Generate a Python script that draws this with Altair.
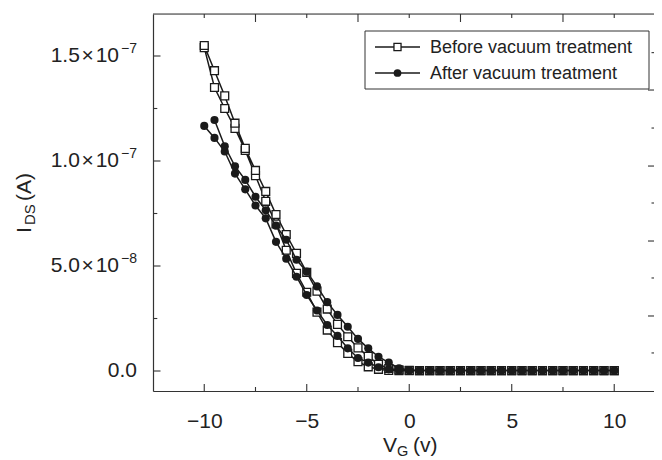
import altair as alt
import pandas as pd

FONT = "Liberation Sans"
INK = "#1a1a1a"

# ---------------- data (currents in units of 1e-8 A) ----------------
vg = [-10.0, -9.5, -9.0, -8.5, -8.0, -7.5, -7.0, -6.5, -6.0, -5.5, -5.0,
      -4.5, -4.0, -3.5, -3.0, -2.5, -2.0, -1.5, -1.0, -0.5, 0.0,
      0.5, 1.0, 1.5, 2.0, 2.5, 3.0, 3.5, 4.0, 4.5, 5.0,
      5.5, 6.0, 6.5, 7.0, 7.5, 8.0, 8.5, 9.0, 9.5, 10.0]

before_upper = [15.5, 14.3, 13.1, 11.8, 10.6, 9.55, 8.55, 7.45, 6.5, 5.6, 4.7,
                3.8, 2.95, 2.22, 1.63, 1.1, 0.7, 0.32, 0.12, 0.05, 0.03,
                0.02, 0.02, 0.02, 0.02, 0.02, 0.02, 0.02, 0.02, 0.02, 0.02,
                0.02, 0.02, 0.02, 0.02, 0.02, 0.02, 0.02, 0.02, 0.02, 0.02]
before_lower = [15.4, 13.5, 12.5, 11.55, 10.5, 9.3, 8.08, 7.0, 5.75, 4.65, 3.75,
                2.8, 1.95, 1.35, 0.84, 0.44, 0.2, 0.08, 0.03, 0.02, 0.02,
                0.02, 0.02, 0.02, 0.02, 0.02, 0.02, 0.02, 0.02, 0.02, 0.02,
                0.02, 0.02, 0.02, 0.02, 0.02, 0.02, 0.02, 0.02, 0.02, 0.02]
after_upper = [None, 11.95, 10.7, 9.75, 9.1, 8.3, 7.65, 6.92, 6.25, 5.3, 4.73,
               4.03, 3.28, 2.67, 2.11, 1.53, 1.08, 0.68, 0.4, 0.13, 0.05,
               0.03, 0.02, 0.02, 0.02, 0.02, 0.02, 0.02, 0.02, 0.02, 0.02,
               0.02, 0.02, 0.02, 0.02, 0.02, 0.02, 0.02, 0.02, 0.02, 0.02]
after_lower = [11.67, 11.1, 10.45, 9.4, 8.65, 7.88, 7.27, 6.15, 5.35, 4.49, 3.62,
               2.88, 2.19, 1.67, 1.08, 0.62, 0.4, 0.18, 0.08, 0.03, 0.02,
               0.02, 0.02, 0.02, 0.02, 0.02, 0.02, 0.02, 0.02, 0.02, 0.02,
               0.02, 0.02, 0.02, 0.02, 0.02, 0.02, 0.02, 0.02, 0.02, 0.02]

series_names = ["Before vacuum treatment", "After vacuum treatment"]

x_major = [-10, -5, 0, 5, 10]
x_minor = [-7.5, -2.5, 2.5, 7.5]
top_long = [-7.5, -2.5, 2.5, 7.5]
top_short = [-10, -5, 0, 5, 10]
y_tick_vals = [0.0, 5e-8, 1e-7, 1.5e-7]
y_tick_mant = ["0.0", "5.0\u200a×\u200a10", "1.0\u200a×\u200a10", "1.5\u200a×\u200a10"]
y_tick_exp = ["", "\u22128", "\u22127", "\u22127"]
y_minor = [2.5e-8, 7.5e-8, 1.25e-7]
right_major = [2.62e-8, 6.19e-8, 9.76e-8, 13.38e-8]
right_minor = [0.86e-8, 4.43e-8, 8.0e-8, 11.57e-8, 15.16e-8]

X_DOM = [-12.5, 11.94]
Y_DOM = [-0.952e-8, 1.70e-7]
W, H = 501, 377


def build(name, upper, lower):
    rows = []
    k = 0
    for x, y in zip(vg, lower):
        if y is not None:
            rows.append({"series": name, "x": x, "y": y * 1e-8, "ord": k})
            k += 1
    for x, y in zip(reversed(vg), reversed(upper)):
        if y is not None:
            rows.append({"series": name, "x": x, "y": y * 1e-8, "ord": k})
            k += 1
    return pd.DataFrame(rows)


df_before = build(series_names[0], before_upper, before_lower)
df_after = build(series_names[1], after_upper, after_lower)

xs = alt.Scale(domain=X_DOM, nice=False, zero=False)
ys = alt.Scale(domain=Y_DOM, nice=False, zero=False)

X = alt.X("x:Q", scale=xs,
          axis=alt.Axis(values=x_major, format="d", ticks=False, tickSize=0,
                        labelPadding=19, labelFontSize=21, labelFont=FONT,
                        labelColor="#222", domainColor="#333", domainWidth=1.2,
                        grid=False, title=None))
Y = alt.Y("y:Q", scale=ys,
          axis=alt.Axis(labels=False, ticks=False, tickSize=0, grid=False,
                        domainColor="#333", domainWidth=1.2, title=None))

line_b = alt.Chart(df_before).mark_line(color=INK, strokeWidth=1.5).encode(
    x=X, y=Y, order="ord:Q")
pts_b = alt.Chart(df_before).mark_point(shape="square", filled=True, fill="white",
                                        stroke=INK, strokeWidth=1.3, size=62,
                                        opacity=1).encode(
    x=alt.X("x:Q", scale=xs), y=alt.Y("y:Q", scale=ys))
line_a = alt.Chart(df_after).mark_line(color=INK, strokeWidth=1.5).encode(
    x=alt.X("x:Q", scale=xs), y=alt.Y("y:Q", scale=ys), order="ord:Q")
pts_a = alt.Chart(df_after).mark_circle(color=INK, size=66, opacity=1).encode(
    x=alt.X("x:Q", scale=xs), y=alt.Y("y:Q", scale=ys))

# ---------------- inward ticks ----------------
def vticks(vals, y0, y1):
    return alt.Chart(pd.DataFrame({"v": vals})).mark_rule(color="#333", strokeWidth=1.1).encode(
        x=alt.X("v:Q", scale=xs), y=alt.value(y0), y2=alt.value(y1))


def hticks(vals, x0, x1):
    return alt.Chart(pd.DataFrame({"v": vals})).mark_rule(color="#333", strokeWidth=1.1).encode(
        y=alt.Y("v:Q", scale=ys), x=alt.value(x0), x2=alt.value(x1))


one = pd.DataFrame({"k": [0]})
top_spine = alt.Chart(one).mark_rule(color="#333", strokeWidth=1.2).encode(
    x=alt.value(0), x2=alt.value(W), y=alt.value(0))

ticks = [
    vticks(x_major, H, H - 7), vticks(x_minor, H, H - 4),
    vticks(top_long, 0, 8), vticks(top_short, 0, 4),
    hticks(y_tick_vals, 0, 7.5), hticks(y_minor, 0, 4.3),
    hticks(right_major, W, W - 6), hticks(right_minor, W, W - 2.5),
]

# ---------------- y tick labels (mantissa ×10^exp) ----------------
ylab = pd.DataFrame({"v": y_tick_vals, "m": y_tick_mant, "e": y_tick_exp})
ylab_plain = alt.Chart(ylab).transform_filter("datum.e == ''").mark_text(
    align="right", baseline="middle", font=FONT, fontSize=21, color="#222").encode(
    y=alt.Y("v:Q", scale=ys), x=alt.value(-16), text="m:N")
ylab_mant = alt.Chart(ylab).transform_filter("datum.e != ''").mark_text(
    align="right", baseline="middle", font=FONT, fontSize=21, color="#222").encode(
    y=alt.Y("v:Q", scale=ys), x=alt.value(-34), text="m:N")
ylab_exp = alt.Chart(ylab).transform_filter("datum.e != ''").mark_text(
    align="right", baseline="middle", font=FONT, fontSize=14, color="#222", dy=-7).encode(
    y=alt.Y("v:Q", scale=ys), x=alt.value(-16), text="e:N")

# ---------------- axis titles with sub-scripts ----------------
def txt(s, x, y, size, angle=0, align="left"):
    return alt.Chart(pd.DataFrame({"t": [s]})).mark_text(
        align=align, baseline="alphabetic", font=FONT, fontSize=size,
        color="#222", angle=angle).encode(
        x=alt.value(x), y=alt.value(y), text="t:N")


x_title = [txt("V", 230, 438, 21), txt("G", 244, 442, 14.5), txt("(v)", 260, 438, 21)]
y_title = [txt("I", -122, 219, 21, angle=270), txt("DS", -118, 211, 15, angle=270),
           txt("(A)", -122, 187, 21, angle=270)]

# ---------------- legend ----------------
legend_box = alt.Chart(one).mark_rect(fill="white", stroke="#333", strokeWidth=1).encode(
    x=alt.value(212), x2=alt.value(496), y=alt.value(17), y2=alt.value(75))
leg = [legend_box]
for i, name in enumerate(series_names):
    yy = 33 + 26 * i
    d = pd.DataFrame({"name": [name]})
    leg.append(alt.Chart(d).mark_rule(color=INK, strokeWidth=1.5).encode(
        x=alt.value(222), x2=alt.value(267), y=alt.value(yy)))
    if i == 0:
        leg.append(alt.Chart(d).mark_point(shape="square", filled=True, fill="white",
                                           stroke=INK, strokeWidth=1.3, size=50,
                                           opacity=1).encode(
            x=alt.value(244.5), y=alt.value(yy)))
    else:
        leg.append(alt.Chart(d).mark_circle(color=INK, size=60, opacity=1).encode(
            x=alt.value(244.5), y=alt.value(yy)))
    leg.append(alt.Chart(d).mark_text(align="left", baseline="middle", font=FONT,
                                      fontSize=18, color="#222").encode(
        x=alt.value(277), y=alt.value(yy + 1), text="name:N"))

chart = alt.layer(
    line_b, pts_b, line_a, pts_a, top_spine, *ticks,
    ylab_plain, ylab_mant, ylab_exp, *x_title, *y_title, *leg
).resolve_scale(x="shared", y="shared").properties(
    width=W, height=H,
    padding={"left": 145, "top": 6, "right": 0, "bottom": 67},
    autosize=alt.AutoSizeParams(type="none"),
).configure_view(strokeWidth=0).configure(background="white")

chart.save("out.html", embed_options={"renderer": "svg", "actions": False})
